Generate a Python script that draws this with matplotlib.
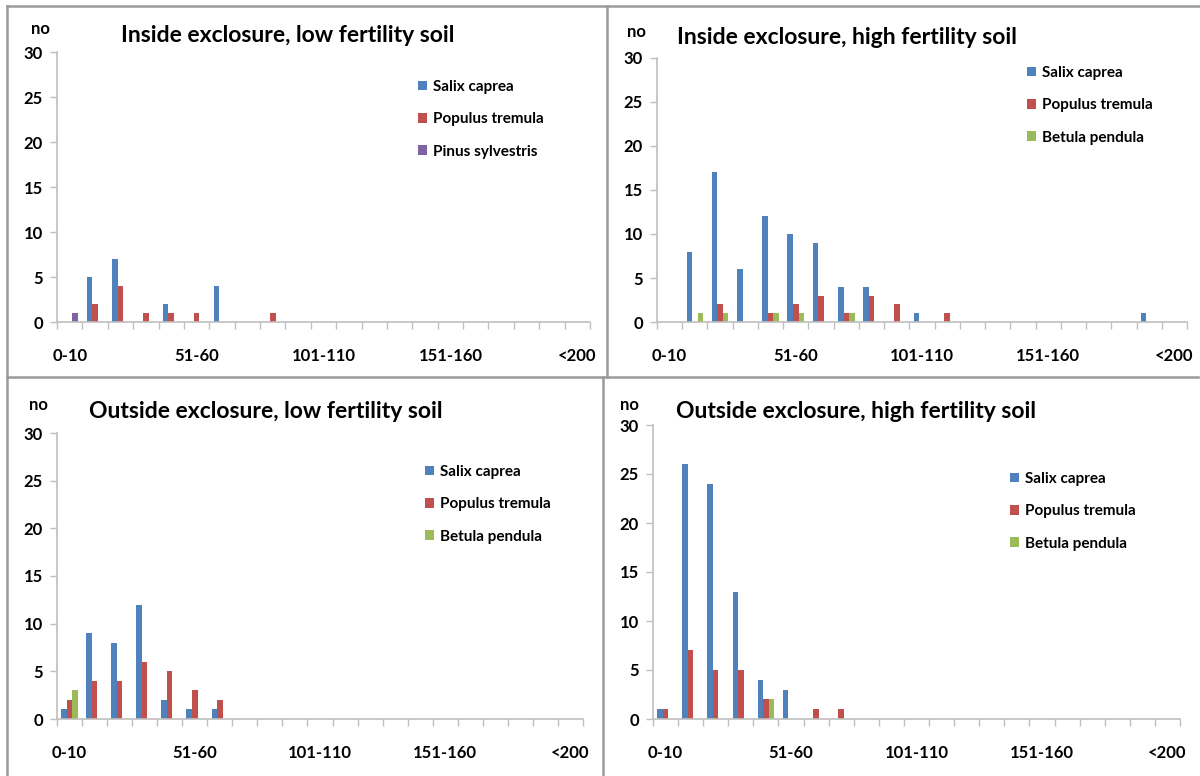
import matplotlib
matplotlib.use("Agg")
import matplotlib.pyplot as plt
from matplotlib.lines import Line2D
import numpy as np

plt.rcParams['font.family'] = ['Lato', 'DejaVu Sans']
plt.rcParams['font.weight'] = 'bold'

# height classes (cm)
classes = ['0-10', '11-20', '21-30', '31-40', '41-50', '51-60', '61-70', '71-80',
           '81-90', '91-100', '101-110', '111-120', '121-130', '131-140', '141-150',
           '151-160', '161-170', '171-180', '181-190', '191-200', '<200']
shown_labels = ['0-10', '51-60', '101-110', '151-160', '<200']

# inside exclosure, low fertility soil
in_low_salix = [0, 5, 7, 0, 2, 0, 4, 0, 0, 0, 0, 0, 0, 0, 0, 0, 0, 0, 0, 0, 0]
in_low_populus = [0, 2, 4, 1, 1, 1, 0, 0, 1, 0, 0, 0, 0, 0, 0, 0, 0, 0, 0, 0, 0]
in_low_pinus = [1, 0, 0, 0, 0, 0, 0, 0, 0, 0, 0, 0, 0, 0, 0, 0, 0, 0, 0, 0, 0]

# inside exclosure, high fertility soil
in_high_salix = [0, 8, 17, 6, 12, 10, 9, 4, 4, 0, 1, 0, 0, 0, 0, 0, 0, 0, 0, 1, 0]
in_high_populus = [0, 0, 2, 0, 1, 2, 3, 1, 3, 2, 0, 1, 0, 0, 0, 0, 0, 0, 0, 0, 0]
in_high_betula = [0, 1, 1, 0, 1, 1, 0, 1, 0, 0, 0, 0, 0, 0, 0, 0, 0, 0, 0, 0, 0]

# outside exclosure, low fertility soil
out_low_salix = [1, 9, 8, 12, 2, 1, 1, 0, 0, 0, 0, 0, 0, 0, 0, 0, 0, 0, 0, 0, 0]
out_low_populus = [2, 4, 4, 6, 5, 3, 2, 0, 0, 0, 0, 0, 0, 0, 0, 0, 0, 0, 0, 0, 0]
out_low_betula = [3, 0, 0, 0, 0, 0, 0, 0, 0, 0, 0, 0, 0, 0, 0, 0, 0, 0, 0, 0, 0]

# outside exclosure, high fertility soil
out_high_salix = [1, 26, 24, 13, 4, 3, 0, 0, 0, 0, 0, 0, 0, 0, 0, 0, 0, 0, 0, 0, 0]
out_high_populus = [1, 7, 5, 5, 2, 0, 1, 1, 0, 0, 0, 0, 0, 0, 0, 0, 0, 0, 0, 0, 0]
out_high_betula = [0, 0, 0, 0, 2, 0, 0, 0, 0, 0, 0, 0, 0, 0, 0, 0, 0, 0, 0, 0, 0]

BLUE = '#4F81BD'
RED = '#C0504D'
GREEN = '#9BBB59'
PURPLE = '#8064A2'
AXIS = '#BFBFBF'

panels = [
    # title, series, axes rect, title xy, "no" xy, legend xy  (pixels)
    ('Inside exclosure, low fertility soil',
     [('Salix caprea', in_low_salix, BLUE), ('Populus tremula', in_low_populus, RED),
      ('Pinus sylvestris', in_low_pinus, PURPLE)],
     (57, 52, 590, 322), (288, 35), (40, 29), (418, 80)),
    ('Inside exclosure, high fertility soil',
     [('Salix caprea', in_high_salix, BLUE), ('Populus tremula', in_high_populus, RED),
      ('Betula pendula', in_high_betula, GREEN)],
     (657, 58, 1187, 322), (847, 38), (636, 32), (1027, 66)),
    ('Outside exclosure, low fertility soil',
     [('Salix caprea', out_low_salix, BLUE), ('Populus tremula', out_low_populus, RED),
      ('Betula pendula', out_low_betula, GREEN)],
     (57, 433, 583, 719), (266, 411), (38, 405), (425, 465)),
    ('Outside exclosure, high fertility soil',
     [('Salix caprea', out_high_salix, BLUE), ('Populus tremula', out_high_populus, RED),
      ('Betula pendula', out_high_betula, GREEN)],
     (653, 425, 1180, 719), (856, 411), (629, 405), (1010, 472)),
]

W, H = 1200, 776
fig = plt.figure(figsize=(12, 7.76), dpi=100)

x = np.arange(len(classes))
bw = 0.22

for title, series, (l, t, r, b), (tx, ty), (nx, ny), (lx, ly) in panels:
    ax = fig.add_axes([l / W, 1 - b / H, (r - l) / W, (b - t) / H])
    for k, (name, vals, col) in enumerate(series):
        ax.bar(x + (k - 1) * bw, vals, width=bw, color=col, label=name)
    ax.set_xlim(-0.5, len(classes) - 0.5)
    ax.set_ylim(0, 30)
    ax.set_yticks(range(0, 31, 5))
    ax.set_xticks(np.arange(-0.5, len(classes)), [''] * (len(classes) + 1))
    ax.set_xticks([classes.index(c) for c in shown_labels], shown_labels, minor=True)
    ax.tick_params(axis='x', which='major', length=5, width=1, color=AXIS, direction='out')
    ax.tick_params(axis='x', which='minor', length=0, pad=19, labelsize=12)
    ax.tick_params(axis='y', length=5, width=1, color=AXIS, labelsize=12, pad=5)
    for s in ('top', 'right'):
        ax.spines[s].set_visible(False)
    for s in ('left', 'bottom'):
        ax.spines[s].set_color(AXIS)
        ax.spines[s].set_linewidth(1.2)
    fig.text(tx / W, 1 - ty / H, title, ha='center', va='center', fontsize=16.5, fontweight='bold')
    fig.text(nx / W, 1 - ny / H, 'no', ha='center', va='center', fontsize=12, fontweight='bold')
    ax.legend(loc='upper left', bbox_to_anchor=(lx / W, 1 - ly / H), bbox_transform=fig.transFigure,
              frameon=False, fontsize=11, handlelength=0.6, handleheight=0.6,
              handletextpad=0.35, labelspacing=1.2, borderpad=0, borderaxespad=0)

# panel frames
GRAY = '#9A9A9A'
frame = [((7, 1200), (6, 6)), ((7, 7), (6, 776)), ((607, 607), (6, 377)),
         ((7, 1198), (377, 377)), ((603, 603), (377, 776))]
for xs, ys in frame:
    fig.add_artist(Line2D([v / W for v in xs], [1 - v / H for v in ys], color=GRAY, lw=1.8))

fig.savefig('out.png', dpi=100)
